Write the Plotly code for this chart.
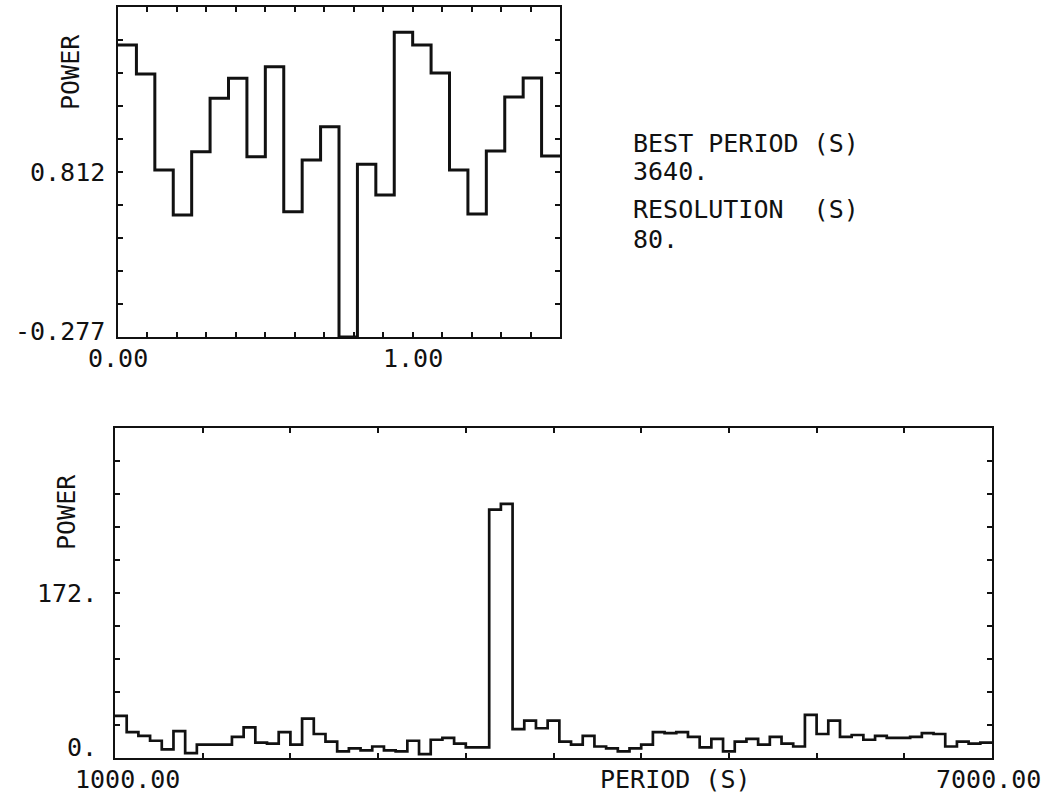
import numpy as np
import plotly.graph_objects as go

# ---------------- data ----------------
# Phase-folded light curve (24 bins over phase 0 .. 1.5)
phase_start = 0.0
phase_end = 1.5
phase_power = [1.650, 1.459, 0.825, 0.528, 0.946, 1.298, 1.430, 0.913,
               1.507, 0.550, 0.891, 1.111, -0.277, 0.863, 0.660, 1.734,
               1.650, 1.466, 0.825, 0.535, 0.951, 1.307, 1.432, 0.918]

# Periodogram: power per 80 s period bin from 1000 s to 7000 s
period_start = 1000.0
period_end = 7000.0
resolution = 80.0
period_power = [44, 27, 23, 18, 9, 28, 5, 14, 14, 14,
                22, 32, 16, 15, 27, 14, 41, 25, 17, 7,
                10, 8, 12, 8, 7, 18, 4, 19, 21, 15,
                11, 11, 259, 265, 30, 39, 31, 39, 17, 14,
                23, 12, 10, 7, 10, 14, 27, 26, 27, 22,
                11, 20, 7, 17, 20, 14, 22, 15, 12, 45,
                25, 39, 22, 24, 19, 23, 21, 21, 22, 26,
                25, 12, 17, 15, 16]

best_period = "3640."
resolution_label = "80."

top_y_labels = [-0.277, 0.812]
top_y_label_text = ["-0.277", "0.812"]
top_x_labels = [0.0, 1.0]
top_x_label_text = ["0.00", "1.00"]
bot_y_labels = [0.0, 172.0]
bot_y_label_text = ["0.", "172."]
bot_x_labels = [1000.0, 7000.0]
bot_x_label_text = ["1000.00", "7000.00"]

# ---------------- figure ----------------
W, H = 1047, 801
FONT = "DejaVu Sans Mono"
FS = 25
INK = "#111111"


def px_x(p):
    return p / W


def px_y(p):
    return 1 - p / H


def step_xy(start, end, vals):
    n = len(vals)
    edges = np.linspace(start, end, n + 1)
    xs = list(edges[:-1]) + [edges[-1]]
    ys = list(vals) + [vals[-1]]
    return xs, ys


fig = go.Figure()

xs, ys = step_xy(phase_start, phase_end, phase_power)
fig.add_trace(go.Scatter(x=xs, y=ys, mode="lines", line=dict(shape="hv", color=INK, width=3),
                         xaxis="x", yaxis="y", showlegend=False, hoverinfo="skip"))

xs2, ys2 = step_xy(period_start, period_end, period_power)
fig.add_trace(go.Scatter(x=xs2, y=ys2, mode="lines", line=dict(shape="hv", color=INK, width=2.7),
                         xaxis="x2", yaxis="y2", showlegend=False, hoverinfo="skip"))

top_ylo = top_y_labels[0]
top_yhi = top_y_labels[0] + 2 * (top_y_labels[1] - top_y_labels[0])
bot_yhi = 2 * bot_y_labels[1]

axis_common = dict(showline=True, mirror="allticks", linecolor=INK, linewidth=2.4,
                   ticks="inside", ticklen=5, tickwidth=2, tickcolor=INK,
                   showgrid=False, zeroline=False, showticklabels=False, fixedrange=True)

fig.update_layout(
    width=W, height=H,
    margin=dict(l=0, r=0, t=0, b=0),
    paper_bgcolor="white", plot_bgcolor="white",
    showlegend=False,
    xaxis=dict(domain=[px_x(118), px_x(560)], range=[phase_start, phase_end],
               tickvals=list(np.arange(0, 1.5001, 0.1)), anchor="y", **axis_common),
    yaxis=dict(domain=[px_y(337), px_y(7)], range=[top_ylo, top_yhi],
               tickvals=list(np.linspace(top_ylo, top_yhi, 11)), anchor="x", **axis_common),
    xaxis2=dict(domain=[px_x(115), px_x(992)], range=[period_start, period_end],
                tickvals=list(np.arange(period_start, period_end + 1, 600)), anchor="y2", **axis_common),
    yaxis2=dict(domain=[px_y(758), px_y(428)], range=[0, bot_yhi],
                tickvals=list(np.linspace(0, bot_yhi, 11)), anchor="x2", **axis_common),
)

font = dict(family=FONT, size=FS, color=INK)
ann = []
# y tick labels, top
for v, t in zip(top_y_labels, top_y_label_text):
    ann.append(dict(xref="x", yref="y", x=phase_start, y=v, text=t, showarrow=False,
                    xanchor="right", yanchor="middle", xshift=-11,
                    yshift=6 if v == top_ylo else 0, font=font))
for v, t in zip(top_x_labels, top_x_label_text):
    ann.append(dict(xref="x", yref="y", x=v, y=top_ylo, text=t, showarrow=False,
                    xanchor="center", yanchor="middle", yshift=-21, font=font))
for v, t in zip(bot_y_labels, bot_y_label_text):
    ann.append(dict(xref="x2", yref="y2", x=period_start, y=v, text=t, showarrow=False,
                    xanchor="right", yanchor="middle", xshift=-16,
                    yshift=11 if v == 0 else 0, font=font))
for v, t in zip(bot_x_labels, bot_x_label_text):
    ann.append(dict(xref="x2", yref="y2", x=v, y=0, text=t, showarrow=False,
                    xanchor="center", yanchor="middle", yshift=-21,
                    xshift=12 if v == period_start else -4, font=font))
# axis titles
ann.append(dict(xref="paper", yref="paper", x=px_x(70), y=px_y(72), text="POWER", textangle=-90,
                showarrow=False, xanchor="center", yanchor="middle", font=font))
ann.append(dict(xref="paper", yref="paper", x=px_x(66), y=px_y(512), text="POWER", textangle=-90,
                showarrow=False, xanchor="center", yanchor="middle", font=font))
ann.append(dict(xref="paper", yref="paper", x=px_x(675), y=px_y(779), text="PERIOD (S)",
                showarrow=False, xanchor="center", yanchor="middle", font=font))
# info text
info = [("BEST PERIOD (S)", 143), (best_period, 172), ("RESOLUTION  (S)", 210), (resolution_label, 239)]
for t, yy in info:
    ann.append(dict(xref="paper", yref="paper", x=px_x(631), y=px_y(yy), text=t.replace(" ", "&nbsp;"),
                    showarrow=False, xanchor="left", yanchor="middle", font=font))

fig.update_layout(annotations=ann)
fig.write_html("out.html")
